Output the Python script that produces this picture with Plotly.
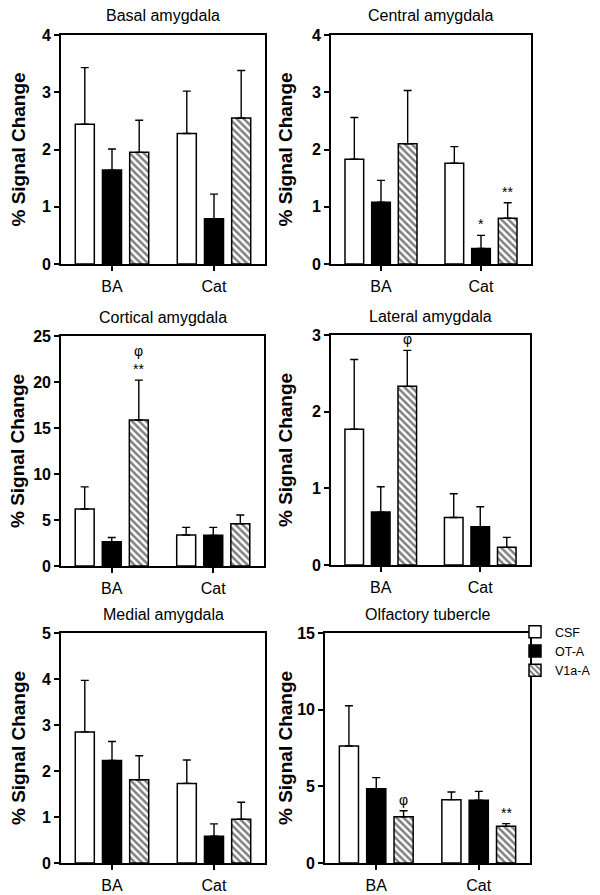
import plotly.graph_objects as go

# ---------------- data ----------------
groups = ["BA", "Cat"]
treatments = ["CSF", "OT-A", "V1a-A"]
panel_titles = ["Basal amygdala", "Central amygdala", "Cortical amygdala",
                "Lateral amygdala", "Medial amygdala", "Olfactory tubercle"]

# mean % signal change, per treatment: [BA, Cat]
basal_mean = {"CSF": [2.44, 2.28], "OT-A": [1.64, 0.79], "V1a-A": [1.95, 2.55]}
basal_err = {"CSF": [0.99, 0.74], "OT-A": [0.37, 0.43], "V1a-A": [0.56, 0.83]}

central_mean = {"CSF": [1.83, 1.76], "OT-A": [1.08, 0.27], "V1a-A": [2.10, 0.80]}
central_err = {"CSF": [0.73, 0.29], "OT-A": [0.38, 0.23], "V1a-A": [0.93, 0.27]}

cortical_mean = {"CSF": [6.2, 3.37], "OT-A": [2.64, 3.33], "V1a-A": [15.87, 4.6]}
cortical_err = {"CSF": [2.4, 0.83], "OT-A": [0.46, 0.87], "V1a-A": [4.33, 0.94]}

lateral_mean = {"CSF": [1.77, 0.62], "OT-A": [0.69, 0.50], "V1a-A": [2.33, 0.23]}
lateral_err = {"CSF": [0.91, 0.31], "OT-A": [0.33, 0.26], "V1a-A": [0.47, 0.13]}

medial_mean = {"CSF": [2.85, 1.73], "OT-A": [2.23, 0.58], "V1a-A": [1.81, 0.95]}
medial_err = {"CSF": [1.12, 0.51], "OT-A": [0.41, 0.27], "V1a-A": [0.52, 0.37]}

olfactory_mean = {"CSF": [7.63, 4.13], "OT-A": [4.85, 4.09], "V1a-A": [3.02, 2.39]}
olfactory_err = {"CSF": [2.63, 0.50], "OT-A": [0.72, 0.58], "V1a-A": [0.39, 0.18]}

y_max = [4, 4, 25, 3, 5, 15]
y_dtick = [1, 1, 5, 1, 1, 5]

# significance marks: (panel index, treatment, group, text)
sig_marks = [
    (1, "OT-A", "Cat", "*"),
    (1, "V1a-A", "Cat", "**"),
    (2, "V1a-A", "BA", "φ<br>**"),
    (3, "V1a-A", "BA", "φ"),
    (5, "V1a-A", "BA", "φ"),
    (5, "V1a-A", "Cat", "**"),
]

means = [basal_mean, central_mean, cortical_mean, lateral_mean, medial_mean, olfactory_mean]
errs = [basal_err, central_err, cortical_err, lateral_err, medial_err, olfactory_err]

# ---------------- layout / style ----------------
PAGE_OFF = 8            # default page body margin of the browser
W, H = 600 - PAGE_OFF, 895 - PAGE_OFF
FONT = "Liberation Sans, Arial, sans-serif"
BARGAP = 0.2
BARGROUPGAP = 0.3


def px_x(v):
    return (v - PAGE_OFF) / W


def px_y(v):
    return 1 - (v - PAGE_OFF) / H


# panel rectangles in page pixels: (x0, x1), (ytop, ybottom)
panel_px = [
    ((61, 265), (35, 264)),
    ((331, 531), (35, 264)),
    ((61, 264), (336, 566)),
    ((331, 530), (335, 565)),
    ((61, 265), (633, 863)),
    ((325, 530), (633, 863)),
]

styles = {
    "CSF": dict(color="white", pattern=None),
    "OT-A": dict(color="black", pattern=None),
    "V1a-A": dict(color="white", pattern=dict(shape="\\", fgcolor="black", bgcolor="white",
                                              size=5, solidity=0.5)),
}

fig = go.Figure()
annotations = []

for p in range(6):
    ax = "" if p == 0 else str(p + 1)
    for t in treatments:
        st = styles[t]
        marker = dict(color=st["color"], line=dict(color="black", width=1.5))
        if st["pattern"] is not None:
            marker["pattern"] = st["pattern"]
        fig.add_trace(go.Bar(
            x=groups, y=means[p][t], name=t,
            xaxis="x" + ax, yaxis="y" + ax,
            marker=marker,
            offsetgroup=t,
            showlegend=(p == 0),
            legendgroup=t,
            error_y=dict(type="data", array=errs[p][t], arrayminus=[0] * len(groups),
                         symmetric=False, color="black", thickness=1.4, width=4),
        ))
    (x0, x1), (yt, yb) = panel_px[p]
    fig.layout["xaxis" + ax] = dict(
        domain=[px_x(x0), px_x(x1)], anchor="y" + ax, range=[-0.5, 1.5],
        showline=True, linecolor="black", linewidth=1.6, mirror=True,
        ticks="outside", ticklen=5, tickwidth=1.5, tickcolor="black",
        ticklabelstandoff=2, automargin=False,
        tickfont=dict(family=FONT, size=16, color="black"),
        showgrid=False, zeroline=False, fixedrange=True,
    )
    fig.layout["yaxis" + ax] = dict(
        domain=[px_y(yb), px_y(yt)], anchor="x" + ax, range=[0, y_max[p]],
        dtick=y_dtick[p], tick0=0, automargin=False,
        showline=True, linecolor="black", linewidth=1.6, mirror=True,
        ticks="outside", ticklen=5, tickwidth=1.5, tickcolor="black",
        tickfont=dict(family=FONT, size=16, color="black", weight="bold"),
        showgrid=False, zeroline=False, fixedrange=True,
    )
    # panel title
    annotations.append(dict(
        text=panel_titles[p], xref="paper", yref="paper",
        x=px_x((x0 + x1) / 2), y=px_y(yt - 19), xanchor="center", yanchor="middle",
        showarrow=False, font=dict(family=FONT, size=16, color="black"),
    ))
    # y-axis title
    ytx = 18 if x0 < 200 else 285
    annotations.append(dict(
        text="% Signal Change", xref="paper", yref="paper",
        x=px_x(ytx), y=px_y((yt + yb) / 2), xanchor="center", yanchor="middle",
        textangle=-90, showarrow=False, borderpad=0,
        font=dict(family=FONT, size=19, color="black", weight="bold"),
    ))

pitch = (1 - BARGAP) / len(treatments)
for p, t, g, txt in sig_marks:
    ax = "" if p == 0 else str(p + 1)
    gi = groups.index(g)
    ti = treatments.index(t)
    top = means[p][t][gi] + errs[p][t][gi]
    annotations.append(dict(
        text=txt, xref="x" + ax, yref="y" + ax,
        x=gi + (ti - (len(treatments) - 1) / 2) * pitch, y=top,
        xanchor="center", yanchor="bottom", yshift=1, showarrow=False,
        font=dict(family=FONT, size=14, color="black"),
    ))

fig.update_layout(
    width=W, height=H,
    margin=dict(l=0, r=0, t=0, b=0, autoexpand=False),
    paper_bgcolor="white", plot_bgcolor="white",
    barmode="group", bargap=BARGAP, bargroupgap=BARGROUPGAP,
    annotations=annotations,
    showlegend=True,
    legend=dict(x=px_x(515), y=px_y(617), xanchor="left", yanchor="top",
                font=dict(family=FONT, size=12.5, color="black"),
                bgcolor="rgba(0,0,0,0)", itemwidth=30, tracegroupgap=0,
                traceorder="normal"),
    font=dict(family=FONT, color="black"),
)

fig.write_html("out.html")
